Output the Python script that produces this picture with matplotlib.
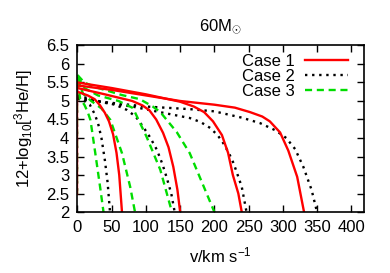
import matplotlib
matplotlib.use('Agg')
import matplotlib.pyplot as plt

plt.rcParams['font.family'] = ['Liberation Sans', 'DejaVu Sans']
plt.rcParams['mathtext.fontset'] = 'custom'
plt.rcParams['mathtext.rm'] = 'Liberation Sans'
plt.rcParams['mathtext.it'] = 'Liberation Sans'

# case 1 (red solid)
r1_v = [0, 15, 25, 33, 40, 46, 52, 57, 61, 65]
r1_y = [5.25, 5.15, 5.05, 4.88, 4.68, 4.45, 4.1, 3.6, 3.0, 2.0]
r2_v = [0, 40, 80, 95, 105, 115, 125, 133, 140, 146, 150]
r2_y = [5.35, 5.18, 5.0, 4.88, 4.75, 4.5, 4.14, 3.75, 3.22, 2.6, 2.0]
r3_v = [0, 50, 100, 150, 170, 185, 198, 211, 220, 227, 235, 240]
r3_y = [5.5, 5.35, 5.18, 4.98, 4.85, 4.7, 4.45, 4.08, 3.6, 3.0, 2.5, 2.0]
r4_v = [0, 50, 100, 150, 200, 230, 252, 270, 281, 296, 308, 321, 331]
r4_y = [5.42, 5.3, 5.15, 5.0, 4.9, 4.82, 4.7, 4.58, 4.45, 4.15, 3.66, 2.95, 2.0]

# case 2 (black dotted)
k1_v = [0, 10, 18, 25, 30, 35, 40, 44, 47.5]
k1_y = [5.1, 5.0, 4.9, 4.65, 4.4, 4.0, 3.4, 2.8, 2.0]
k2_v = [0, 30, 55, 72, 85, 96, 106, 116, 124, 130, 137, 142]
k2_y = [5.15, 5.0, 4.9, 4.76, 4.58, 4.3, 4.02, 3.68, 3.3, 2.95, 2.5, 2.0]
k3_v = [0, 40, 80, 120, 164, 180, 194, 205, 213, 221, 228, 235, 240, 247]
k3_y = [5.1, 4.95, 4.85, 4.7, 4.54, 4.43, 4.27, 4.07, 3.86, 3.6, 3.32, 2.95, 2.68, 2.0]
k4_v = [0, 50, 100, 164, 200, 240, 267, 290, 305, 318, 330, 342, 350]
k4_y = [5.05, 4.95, 4.85, 4.78, 4.72, 4.55, 4.4, 4.2, 4.0, 3.7, 3.22, 2.6, 2.0]

# case 3 (green dashed)
g1_v = [0, 4, 10, 15, 19, 26, 33, 38]
g1_y = [5.55, 5.05, 4.9, 4.7, 4.48, 3.59, 2.68, 2.0]
g2_v = [0, 8, 20, 35, 48, 65, 77, 84]
g2_y = [5.6, 5.2, 5.0, 4.8, 4.49, 3.59, 2.68, 2.0]
g3_v = [0, 10, 30, 60, 81, 101, 121, 138]
g3_y = [5.65, 5.35, 5.15, 5.0, 4.81, 4.03, 3.14, 2.0]
g4_v = [0, 10, 25, 65, 91, 110, 121, 145, 164, 200]
g4_y = [5.7, 5.5, 5.38, 5.16, 5.05, 4.85, 4.7, 4.16, 3.59, 2.0]

# v = 0 models
v0_v = [0, 0]
v0_y = [5.5, 2.5]

fig = plt.figure(figsize=(3.9, 2.73), dpi=100)
ax = fig.add_axes([0.1987, 0.2234, 0.7353, 0.61])

red = dict(color='#ff0000', lw=1.7, ls='-')
blk = dict(color='black', lw=1.7, ls=(0, (1, 2)))
grn = dict(color='#00dd00', lw=1.7, ls=(0, (3, 2)))

for v, y in [(k1_v, k1_y), (k2_v, k2_y), (k3_v, k3_y), (k4_v, k4_y), (v0_v, v0_y)]:
    ax.plot(v, y, **blk)
for v, y in [(g1_v, g1_y), (g2_v, g2_y), (g3_v, g3_y), (g4_v, g4_y), (v0_v, v0_y)]:
    ax.plot(v, y, **grn)
for v, y in [(r1_v, r1_y), (r2_v, r2_y), (r3_v, r3_y), (r4_v, r4_y), (v0_v, v0_y)]:
    ax.plot(v, y, **red)

h1, = ax.plot([], [], **red)
h2, = ax.plot([], [], **blk)
h3, = ax.plot([], [], **grn)
ax.legend([h1, h2, h3], ['Case 1', 'Case 2', 'Case 3'], loc='upper right',
          bbox_to_anchor=(0.945, 0.95), frameon=False, markerfirst=False,
          fontsize=12, handlelength=2.6, labelspacing=0.0, handletextpad=0.6,
          borderaxespad=0, borderpad=0)

ax.set_xlim(0, 419)
ax.set_ylim(2, 6.5)
ax.set_xticks([0, 50, 100, 150, 200, 250, 300, 350, 400])
ax.set_yticks([2, 2.5, 3, 3.5, 4, 4.5, 5, 5.5, 6, 6.5])
ax.set_yticklabels(['2', '2.5', '3', '3.5', '4', '4.5', '5', '5.5', '6', '6.5'])
ax.tick_params(direction='in', top=True, right=True, length=5, width=1,
               labelsize=12, pad=6)
for s in ax.spines.values():
    s.set_linewidth(1.2)

ax.set_title(r'60M$_{\odot}$', fontsize=12, pad=11)
ax.set_xlabel(r'v/km s$^{-1}$', fontsize=12, labelpad=7)
ax.set_ylabel(r'12+log$_{10}$[$^{3}$He/H]', fontsize=12, labelpad=8)

fig.savefig('out.png', dpi=100)
